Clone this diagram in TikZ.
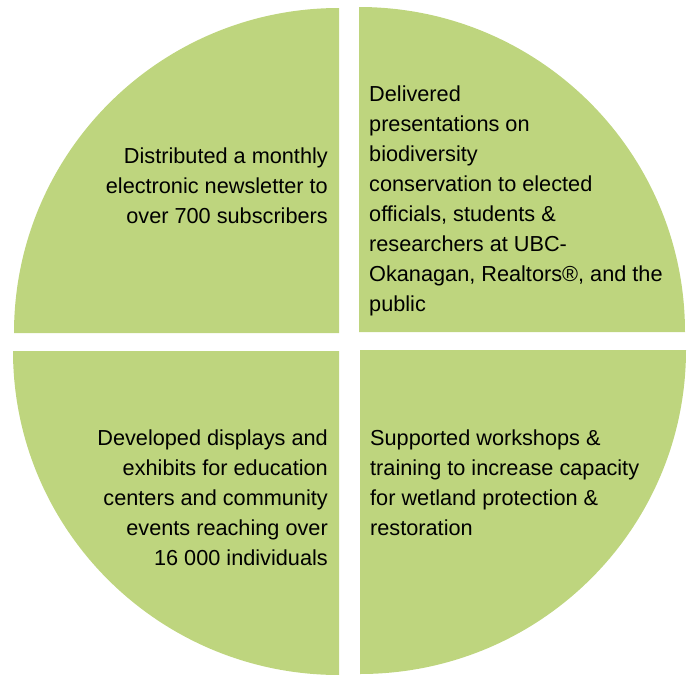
\documentclass[tikz,border=0pt]{standalone}
\usepackage{fontspec}
\setmainfont{Liberation Sans}
\definecolor{leaf}{RGB}{190,213,126}
\begin{document}
\begin{tikzpicture}[x=1pt,y=-1pt,
  slice/.style={fill=leaf,draw=none},
  txt/.style={inner sep=0pt,text=black,font=\fontsize{21.7}{30}\selectfont}]
\useasboundingbox (0,0) rectangle (689,675);
% quadrants
\fill[slice] (339,333) -- (14,333) arc[start angle=180,end angle=90,x radius=325,y radius=-325] -- cycle;
\fill[slice] (359,332) -- (359,7) arc[start angle=90,end angle=0,x radius=326,y radius=-325] -- cycle;
\fill[slice] (339,351) -- (339,675) arc[start angle=270,end angle=180,x radius=326,y radius=-324] -- cycle;
\fill[slice] (360,350) -- (686,350) arc[start angle=0,end angle=-90,x radius=326,y radius=-324] -- cycle;
% texts (base anchor = baseline of last line)
\node[txt,align=right,anchor=base east] (tl) at (328,223)
  {Distributed a monthly\\electronic newsletter to\\over 700 subscribers};
\node[txt,align=left,anchor=base west] (tr) at (369,311)
  {Delivered\\presentations on\\biodiversity\\conservation to elected\\officials, students \&\\researchers at UBC-\\Okanagan, Realtors®, and the\\public};
\node[txt,align=right,anchor=base east] (bl) at (328,565)
  {Developed displays and\\exhibits for education\\centers and community\\events reaching over\\16 000 individuals};
\node[txt,align=left,anchor=base west] (br) at (370,535)
  {Supported workshops \&\\training to increase capacity\\for wetland protection \&\\restoration};
\end{tikzpicture}
\end{document}
